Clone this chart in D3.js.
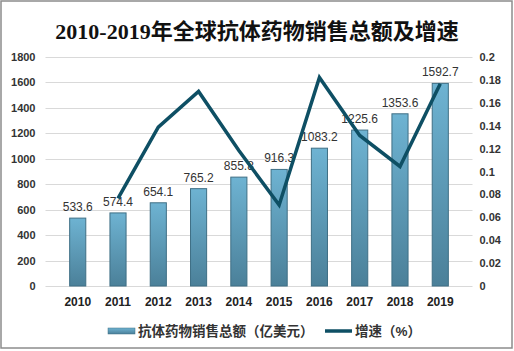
<!DOCTYPE html>
<html lang="zh">
<head>
<meta charset="utf-8">
<title>2010-2019年全球抗体药物销售总额及增速</title>
<script src="https://d3js.org/d3.v7.min.js"></script>
<style>
  body { margin: 0; background: #fff; }
  text { font-family: "Liberation Sans", Arial, "Noto Sans CJK SC", sans-serif; fill: #333; }
  .title { font-family: "Liberation Serif", "DejaVu Serif", "Noto Sans CJK SC", serif; font-weight: bold; }
</style>
</head>
<body>
<script>
// 数据
var years = ["2010", "2011", "2012", "2013", "2014", "2015", "2016", "2017", "2018", "2019"];
var sales = [533.6, 574.4, 654.1, 765.2, 855.8, 916.3, 1083.2, 1225.6, 1353.6, 1592.7];
var growth = [null, 0.0765, 0.1388, 0.1699, 0.1184, 0.0707, 0.1821, 0.1315, 0.1044, 0.1766];
var leftTicks = [0, 200, 400, 600, 800, 1000, 1200, 1400, 1600, 1800];
var rightTicks = [0, 0.02, 0.04, 0.06, 0.08, 0.1, 0.12, 0.14, 0.16, 0.18, 0.2];

var w = 514, h = 351;
var mLeft = 45.5, mRight = 472.5, mTop = 57, mBottom = 286;

var svg = d3.select("body").append("svg")
    .attr("width", w)
    .attr("height", h);

// 渐变
var defs = svg.append("defs");
var grad = defs.append("linearGradient")
    .attr("id", "barGrad")
    .attr("x1", 0).attr("y1", 0).attr("x2", 0).attr("y2", 1);
grad.append("stop").attr("offset", "0%").attr("stop-color", "#6eb3d2");
grad.append("stop").attr("offset", "100%").attr("stop-color", "#4b8099");

// 外框
svg.append("rect")
    .attr("x", 1).attr("y", 1)
    .attr("width", w - 3).attr("height", h - 4)
    .attr("fill", "none")
    .attr("stroke", "#8c8c8c")
    .attr("stroke-width", 1.5);

// 标题
svg.append("text")
    .attr("class", "title")
    .attr("x", w / 2)
    .attr("y", 39)
    .attr("text-anchor", "middle")
    .attr("font-size", 22)
    .style("fill", "#111")
    .text("2010-2019年全球抗体药物销售总额及增速");

// 比例尺
var x = d3.scaleBand().domain(years).range([mLeft, mRight]).padding(0.6);
var y = d3.scaleLinear().domain([0, 1800]).range([mBottom, mTop]);
var y2 = d3.scaleLinear().domain([0, 0.2]).range([mBottom, mTop]);

// 网格线
svg.append("g").selectAll("line")
    .data(leftTicks)
    .enter().append("line")
    .attr("x1", mLeft).attr("x2", mRight)
    .attr("y1", function(d) { return Math.round(y(d)) + 0.5; })
    .attr("y2", function(d) { return Math.round(y(d)) + 0.5; })
    .attr("stroke", "#d9d9d9");

// 左轴
var yAxis = svg.append("g")
    .attr("transform", "translate(" + (mLeft - 10) + ",0)")
    .call(d3.axisLeft(y).tickValues(leftTicks).tickSize(0).tickPadding(0)
        .tickFormat(d3.format("d")));
yAxis.select(".domain").remove();
yAxis.selectAll("text")
    .attr("font-size", 11).attr("font-weight", "bold")
    .style("fill", "#333").attr("font-family", null);

// 右轴
var y2Axis = svg.append("g")
    .attr("transform", "translate(" + (mRight + 7) + ",0)")
    .call(d3.axisRight(y2).tickValues(rightTicks).tickSize(0).tickPadding(0)
        .tickFormat(function(d) { return String(+d.toFixed(2)); }));
y2Axis.select(".domain").remove();
y2Axis.selectAll("text")
    .attr("font-size", 11).attr("font-weight", "bold")
    .style("fill", "#333").attr("font-family", null);

// X轴
var xAxis = svg.append("g")
    .attr("transform", "translate(0," + (mBottom + 4) + ")")
    .call(d3.axisBottom(x).tickSize(0).tickPadding(7));
xAxis.select(".domain").remove();
xAxis.selectAll("text")
    .attr("font-size", 12).attr("font-weight", "bold")
    .style("fill", "#222").attr("font-family", null);

// 柱子
svg.append("g").selectAll("rect")
    .data(sales)
    .enter().append("rect")
    .attr("x", function(d, i) { return x(years[i]); })
    .attr("y", function(d) { return y(d); })
    .attr("width", x.bandwidth())
    .attr("height", function(d) { return mBottom - y(d); })
    .attr("fill", "url(#barGrad)")
    .attr("stroke", "#3f6f85")
    .attr("stroke-width", 1);

// 柱子标签
svg.append("g").selectAll("text")
    .data(sales)
    .enter().append("text")
    .attr("x", function(d, i) { return x(years[i]) + x.bandwidth() / 2; })
    .attr("y", function(d) { return y(d) - 7; })
    .attr("text-anchor", "middle")
    .attr("font-size", 12)
    .style("fill", "#333")
    .text(function(d) { return d.toFixed(1); });

// 增速折线
var line = d3.line()
    .defined(function(d) { return d != null; })
    .x(function(d, i) { return x(years[i]) + x.bandwidth() / 2; })
    .y(function(d) { return y2(d); });

svg.append("path")
    .datum(growth)
    .attr("d", line)
    .attr("fill", "none")
    .attr("stroke", "#0e4f64")
    .attr("stroke-width", 3.5)
    .attr("stroke-linejoin", "miter");

// 图例
var lg = svg.append("g").attr("transform", "translate(0,331)");
lg.append("rect")
    .attr("x", 108).attr("y", -3)
    .attr("width", 27).attr("height", 6)
    .attr("fill", "url(#barGrad)")
    .attr("stroke", "#3f6f85").attr("stroke-width", 0.5);
lg.append("text")
    .attr("x", 138).attr("y", 5)
    .attr("font-size", 13.5).attr("font-weight", "bold")
    .style("fill", "#333")
    .text("抗体药物销售总额（亿美元）");
lg.append("line")
    .attr("x1", 325).attr("x2", 352)
    .attr("y1", 0).attr("y2", 0)
    .attr("stroke", "#0e4f64").attr("stroke-width", 3.5);
lg.append("text")
    .attr("x", 355).attr("y", 5)
    .attr("font-size", 13.5).attr("font-weight", "bold")
    .style("fill", "#333")
    .text("增速（%）");
</script>
</body>
</html>
